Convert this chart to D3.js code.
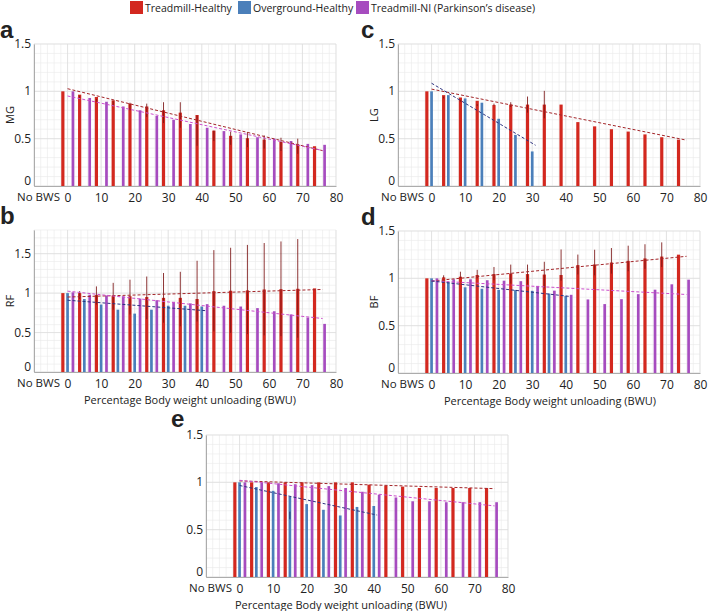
<!DOCTYPE html>
<html>
<head>
<meta charset="utf-8">
<script src="https://cdn.jsdelivr.net/npm/d3@7"></script>
<style>
  body { margin: 0; background: #fff; }
  text { font-family: "Open Sans", sans-serif; fill: #222; }
</style>
</head>
<body>
<svg id="fig" width="708" height="611"></svg>
<script>
// BWU levels (%) shared by every panel
var levels = [0, 5, 10, 15, 20, 25, 30, 35, 40, 45, 50, 55, 60, 65, 70, 75];
var xTicks = [-10, 0, 10, 20, 30, 40, 50, 60, 70, 80];
var yTicks = [0, 0.5, 1, 1.5];
var seriesNames = ["Treadmill-Healthy", "Overground-Healthy", "Treadmill-NI (Parkinson\u2019s disease)"];

// MG
var treadMG   = [1.0, 0.965, 0.94, 0.905, 0.87, 0.84, 0.80, 0.775, 0.75, 0.585, 0.53, 0.505, 0.49, 0.465, 0.44, 0.42];
var treadSdMG = [0, 0.015, 0.015, 0.025, 0.04, 0.07, 0.11, 0.135, 0.16, 0.055, 0.07, 0.08, 0.07, 0.07, 0.08, 0.09];
var parkMG    = [1.0, 0.93, 0.89, 0.84, 0.80, 0.74, 0.70, 0.655, 0.615, 0.58, 0.545, 0.515, 0.50, 0.475, 0.445, 0.435];

// RF
var treadRF   = [1.0, 1.0, 0.975, 0.97, 0.96, 0.95, 0.94, 0.94, 0.925, 1.025, 1.03, 1.035, 1.046, 1.05, 1.055, 1.06];
var treadSdRF = [0, 0.05, 0.115, 0.17, 0.22, 0.27, 0.315, 0.345, 0.385, 0.515, 0.54, 0.565, 0.585, 0.60, 0.625, 0.64];
var overRF    = [1.0, 0.925, 0.855, 0.79, 0.74, 0.79, 0.84, 0.84, 0.83];
var parkRF    = [1.01, 0.98, 0.97, 0.96, 0.93, 0.91, 0.89, 0.87, 0.86, 0.84, 0.83, 0.81, 0.77, 0.73, 0.69, 0.61];

// LG
var treadLG   = [1.0, 0.96, 0.935, 0.90, 0.855, 0.86, 0.86, 0.86, 0.86, 0.675, 0.63, 0.60, 0.575, 0.545, 0.515, 0.49];
var treadSdLG = [0, 0.01, 0.01, 0.01, 0.01, 0.025, 0.085, 0.145, 0.21, 0, 0, 0, 0, 0, 0, 0];
var overLG    = [1.0, 0.96, 0.925, 0.88, 0.71, 0.54, 0.365];

// BF
var treadBF   = [1.0, 1.01, 1.017, 1.035, 1.045, 1.05, 1.045, 1.04, 1.035, 1.14, 1.146, 1.167, 1.185, 1.21, 1.23, 1.25];
var treadSdBF = [0, 0.015, 0.035, 0.045, 0.07, 0.10, 0.105, 0.14, 0.165, 0.105, 0.135, 0.135, 0.135, 0.13, 0.13, 0.125];
var overBF    = [1.0, 0.96, 0.905, 0.89, 0.878, 0.878, 0.868, 0.84, 0.815];
var parkBF    = [1.0, 0.99, 0.99, 0.98, 0.975, 0.97, 0.92, 0.87, 0.826, 0.777, 0.728, 0.78, 0.833, 0.88, 0.937, 0.986];

// panel e
var treadE    = [1.0, 1.0, 1.0, 1.0, 1.0, 1.0, 1.0, 1.0, 0.975, 0.965, 0.955, 0.94, 0.94, 0.94, 0.94, 0.94];
var treadSdE  = [0, 0, 0, 0, 0, 0, 0, 0, 0.015, 0.01, 0.02, 0.055, 0.08, 0.11, 0.13, 0.16];
var overE     = [1.0, 0.95, 0.91, 0.85, 0.77, 0.71, 0.65, 0.74, 0.75];
var overSdE   = [0, 0, 0, 0.04, 0.05, 0.07, 0.11, 0, 0];
var parkE     = [1.0, 1.0, 0.99, 0.98, 0.97, 0.96, 0.94, 0.90, 0.87, 0.84, 0.80, 0.80, 0.79, 0.79, 0.79, 0.79];

var colors = { tread: "#d3281f", over: "#4b7fba", park: "#a64cbf" };
var errColors = { tread: "#7a1414", over: "#1e2c5e" };
var fitColors = { tread: "#a3262a", over: "#2d3380", park: "#cc4fcc" };
var offsets = { tread: -1.4, over: 0, park: 1.6 };
var barW = { tread: 0.95, over: 0.8, park: 0.8 };

var panels = [
  { tag: "a", tagX: 0, ylab: "MG", left: 34, top: 44, yMax: 1.5, tread: treadMG, treadSd: treadSdMG, park: parkMG },
  { tag: "c", tagX: 361, ylab: "LG", left: 398, top: 44, yMax: 1.5, tread: treadLG, treadSd: treadSdLG, over: overLG },
  { tag: "b", tagX: 0, ylab: "RF", left: 34, top: 230, yMax: 1.8, tread: treadRF, treadSd: treadSdRF, over: overRF, park: parkRF, xlab: 5 },
  { tag: "d", tagX: 361, ylab: "BF", left: 398, top: 231, yMax: 1.5, tread: treadBF, treadSd: treadSdBF, over: overBF, park: parkBF, xlab: 1 },
  { tag: "e", tagX: 171, ylab: null, left: 206, top: 435, yMax: 1.5, tread: treadE, treadSd: treadSdE, over: overE, overSd: overSdE, park: parkE, xlab: -16 }
];

var pw = 302, ph = 142;
var svg = d3.select("#fig");

// legend along the top
var legX = [130, 238, 356];
seriesNames.forEach(function(name, i) {
  var key = ["tread", "over", "park"][i];
  svg.append("rect").attr("x", legX[i]).attr("y", 1).attr("width", 13).attr("height", 13).attr("fill", colors[key]);
  svg.append("text").attr("x", legX[i] + 15).attr("y", 11.5).style("font-size", "10.5px").text(name);
});

// least-squares line through (levels, values)
function fit(vals) {
  var xs = levels.slice(0, vals.length);
  var mx = d3.mean(xs), my = d3.mean(vals);
  var num = d3.sum(xs, function(d, i) { return (d - mx) * (vals[i] - my); });
  var den = d3.sum(xs, function(d) { return (d - mx) * (d - mx); });
  var b = num / den;
  return { a: my - b * mx, b: b, x0: xs[0], x1: xs[xs.length - 1] + 1 };
}

panels.forEach(function(p) {
  var x = d3.scaleLinear().domain([-10, 80]).range([0, pw]);
  var y = d3.scaleLinear().domain([0, p.yMax]).range([ph, 0]);
  var g = svg.append("g").attr("transform", "translate(" + p.left + "," + p.top + ")");

  // minor + major grid
  g.selectAll(".vmin").data(d3.range(-10, 80.01, 2)).enter().append("line")
    .attr("x1", x).attr("x2", x).attr("y1", 0).attr("y2", ph)
    .attr("stroke", "#e9e9e9").attr("stroke-width", 0.6);
  g.selectAll(".hmin").data(d3.range(0, p.yMax + 1e-9, 0.1)).enter().append("line")
    .attr("x1", 0).attr("x2", pw).attr("y1", y).attr("y2", y)
    .attr("stroke", "#e9e9e9").attr("stroke-width", 0.6);
  g.selectAll(".vmaj").data(xTicks).enter().append("line")
    .attr("x1", x).attr("x2", x).attr("y1", 0).attr("y2", ph)
    .attr("stroke", "#dcdcdc").attr("stroke-width", 0.7);
  g.selectAll(".hmaj").data(yTicks.filter(function(t) { return t <= p.yMax; })).enter().append("line")
    .attr("x1", 0).attr("x2", pw).attr("y1", y).attr("y2", y)
    .attr("stroke", "#dcdcdc").attr("stroke-width", 0.7);

  // bars
  ["tread", "over", "park"].forEach(function(key) {
    var vals = p[key];
    if (!vals) return;
    g.selectAll(".bar-" + key).data(vals).enter().append("rect")
      .attr("x", function(d, i) { return x(levels[i] + offsets[key] - barW[key] / 2); })
      .attr("y", function(d) { return y(d); })
      .attr("width", x(barW[key]) - x(0))
      .attr("height", function(d) { return y(0) - y(d); })
      .attr("fill", colors[key]);
  });

  // error bars
  [["tread", p.treadSd], ["over", p.overSd]].forEach(function(pair) {
    var key = pair[0], sd = pair[1], vals = p[key];
    if (!sd || !vals) return;
    g.selectAll(".err-" + key).data(vals).enter().append("line")
      .filter(function(d, i) { return sd[i] > 0; })
      .attr("x1", function(d, i) { return x(levels[i] + offsets[key]); })
      .attr("x2", function(d, i) { return x(levels[i] + offsets[key]); })
      .attr("y1", function(d, i) { return y(d - sd[i]); })
      .attr("y2", function(d, i) { return y(d + sd[i]); })
      .attr("stroke", errColors[key]).attr("stroke-width", 1).attr("opacity", 0.85);
  });

  // dashed trend lines
  ["tread", "park", "over"].forEach(function(key) {
    var vals = p[key];
    if (!vals) return;
    var f = fit(vals);
    g.append("line")
      .attr("x1", x(f.x0)).attr("x2", x(f.x1))
      .attr("y1", y(f.a + f.b * f.x0)).attr("y2", y(f.a + f.b * f.x1))
      .attr("stroke", fitColors[key]).attr("stroke-width", 1)
      .attr("stroke-dasharray", "3,2");
  });

  // axes
  var xAxis = g.append("g").attr("transform", "translate(0," + ph + ")")
    .call(d3.axisBottom(x).tickValues(xTicks).tickSize(0).tickPadding(6)
      .tickFormat(function(d) { return d === -10 ? "No BWS" : d; }));
  var yAxis = g.append("g")
    .call(d3.axisLeft(y).tickValues(yTicks).tickSize(0).tickPadding(3)
      .tickFormat(function(d) { return d; }));
  [xAxis, yAxis].forEach(function(ax) {
    ax.select(".domain").attr("stroke", "#9a9a9a").attr("stroke-width", 0.8);
    ax.selectAll("text").style("font-size", "12px").attr("fill", "#222");
  });
  xAxis.selectAll("text").attr("dy", "0.82em")
    .attr("dx", function(d) { return d === -10 ? 4 : 0; })
    .style("font-size", function(d) { return d === -10 ? "11.5px" : "12px"; });
  yAxis.selectAll("text").attr("dy", function(d) { return d === 0 ? "-0.12em" : "0.3em"; });

  // labels
  svg.append("text").attr("x", p.tagX)
    .attr("y", p.tag === "e" ? p.top - 8 : p.top - 6).style("font-family", "'Liberation Sans', Arial, sans-serif")
    .style("font-weight", "bold").style("font-size", "24px").attr("fill", "#000").text(p.tag);
  if (p.ylab) {
    svg.append("text").attr("transform", "translate(" + (p.left - 20) + "," + (p.top + ph / 2) + ") rotate(-90)")
      .attr("text-anchor", "middle").style("font-size", "11px").text(p.ylab);
  }
  if (p.xlab) {
    svg.append("text").attr("x", p.left + pw / 2 + p.xlab).attr("y", p.top + ph + 32)
      .attr("text-anchor", "middle").style("font-size", "11px").text("Percentage Body weight unloading (BWU)");
  }
});
</script>
</body>
</html>
